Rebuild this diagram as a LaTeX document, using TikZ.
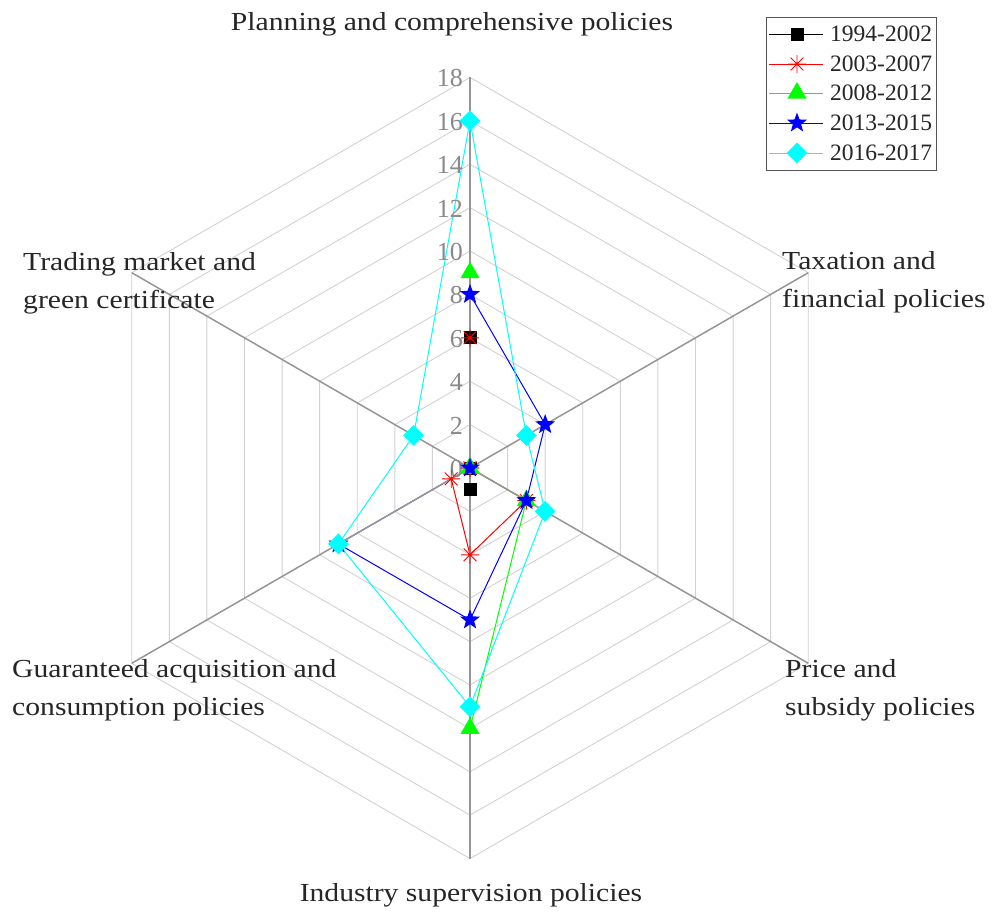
\documentclass[tikz,border=0pt]{standalone}
\usepackage{fontspec}
\setmainfont{Liberation Serif}
\newfontfamily\labfont[FakeStretch=1.14]{Liberation Serif}
\usetikzlibrary{shapes.geometric}
\definecolor{ringc}{HTML}{D2D2D2}
\definecolor{axisc}{HTML}{969696}
\definecolor{tickc}{HTML}{8A8A8A}
\definecolor{legbord}{HTML}{555555}
\definecolor{cred}{HTML}{FF0000}
\definecolor{cgreen}{HTML}{00FF00}
\definecolor{cblue}{HTML}{0000FF}
\definecolor{ccyan}{HTML}{00FFFF}
\newcommand\defseries[2]{%
  \foreach \v [count=\i from 0] in {#2} {%
    \coordinate (#1\i) at ({470+21.7*\v*cos(90-60*\i)},{468-21.7*\v*sin(90-60*\i)});}}
\tikzset{
  ringline/.style={draw=ringc, line width=0.9pt},
  axisline/.style={draw=axisc, line width=1.5pt},
  ticklab/.style={text=tickc, font=\fontsize{26}{26}\selectfont, inner sep=0pt},
  axlab/.style={text=black!85, font=\labfont\fontsize{26}{38}\selectfont, inner sep=0pt, align=left},
  leglab/.style={text=black!85, font=\fontsize{23.5}{23.5}\selectfont, inner sep=0pt, anchor=west},
  serline/.style={line width=1pt},
  sqm/.style={rectangle, fill=black, minimum size=13pt, inner sep=0pt},
  trim/.style={regular polygon, regular polygon sides=3, fill=cgreen, minimum size=22pt, inner sep=0pt},
  starm/.style={star, star points=5, star point ratio=2.4, fill=cblue, minimum size=21pt, inner sep=0pt},
  diam/.style={diamond, fill=ccyan, minimum width=21pt, minimum height=21pt, inner sep=0pt},
  asterm/.pic={\draw[cred, line width=0.9pt] (-9,0)--(9,0) (0,-9)--(0,9) (-6.4,-6.4)--(6.4,6.4) (-6.4,6.4)--(6.4,-6.4);}
}
\begin{document}
\begin{tikzpicture}[x=1pt,y=-1pt]
\useasboundingbox (0,0) rectangle (994,913);
\fill[white] (0,0) rectangle (994,913);
\coordinate (c) at (470,468);
% grid coordinates
\foreach \k in {0,...,5}{
  \foreach \r in {2,4,...,18}{
    \coordinate (g\k-\r) at ({470+21.7*\r*cos(90-60*\k)},{468-21.7*\r*sin(90-60*\k)});
  }
}
\foreach \r in {2,4,...,18}
  \draw[ringline] (g0-\r) -- (g1-\r) -- (g2-\r) -- (g3-\r) -- (g4-\r) -- (g5-\r) -- cycle;
% data
\defseries{k}{6,0,0,1,0,0}
\defseries{r}{6,0,3,4,1,0}
\defseries{g}{9,0,3,12,0,0}
\defseries{b}{8,4,3,7,7,0}
\defseries{y}{16,3,4,11,7,3}
\draw[serline, black] (k0)--(k1)--(k2)--(k3)--(k4)--(k5)--cycle;
\draw[serline, cred] (r0)--(r1)--(r2)--(r3)--(r4)--(r5)--cycle;
\draw[serline, cgreen] (g0)--(g1)--(g2)--(g3)--(g4)--(g5)--cycle;
\draw[serline, cblue] (b0)--(b1)--(b2)--(b3)--(b4)--(b5)--cycle;
\draw[serline, ccyan] (y0)--(y1)--(y2)--(y3)--(y4)--(y5)--cycle;
% axes
\foreach \k in {0,...,5} \draw[axisline] (c) -- (g\k-18);
% tick labels
\foreach \r in {0,2,...,18}
  \node[ticklab, anchor=east] (t\r) at (463,{468-21.7*\r+1}) {\r};
% markers
\foreach \i in {0,...,5} \node[sqm] (mk\i) at (k\i) {};
\foreach \i in {0,...,5} \pic at (r\i) {asterm};
\foreach \i in {0,...,5} \node[trim] (mg\i) at (g\i) {};
\foreach \i in {0,...,5} \node[starm] (mb\i) at (b\i) {};
\foreach \i in {0,...,5} \node[diam] (my\i) at (y\i) {};
% axis labels
\node[axlab, anchor=center] (lp) at (452,24) {Planning and comprehensive policies};
\node[axlab, anchor=west] (lt) at (782,282) {Taxation and\\financial policies};
\node[axlab, anchor=west] (lr) at (785,690) {Price and\\subsidy policies};
\node[axlab, anchor=center] (li) at (471,895) {Industry supervision policies};
\node[axlab, anchor=west] (lg) at (12,690) {Guaranteed acquisition and\\consumption policies};
\node[axlab, anchor=west] (lm) at (23,283) {Trading market and\\green certificate};
% legend
\node[draw=legbord, fill=white, line width=0.9pt, minimum width=170pt, minimum height=153pt, anchor=north west, inner sep=0pt] (leg) at (766,17) {};
\foreach \n/\yy in {1/34,2/64,3/93,4/123,5/153}{
  \coordinate (la\n) at (769,\yy);
  \coordinate (lb\n) at (823,\yy);
  \coordinate (lm\n) at (797,\yy);
}
\draw[serline, black] (la1) -- (lb1);
\node[sqm] (lk) at (lm1) {};
\draw[serline, cred] (la2) -- (lb2);
\pic at (lm2) {asterm};
\draw[serline, cgreen] (la3) -- (lb3);
\node[trim] (lgm) at (lm3) {};
\draw[serline, cblue] (la4) -- (lb4);
\node[starm] (lbm) at (lm4) {};
\draw[serline, ccyan] (la5) -- (lb5);
\node[diam] (lym) at (lm5) {};
\node[leglab] (lt1) at (830,34) {1994-2002};
\node[leglab] (lt2) at (830,64) {2003-2007};
\node[leglab] (lt3) at (830,93) {2008-2012};
\node[leglab] (lt4) at (830,123) {2013-2015};
\node[leglab] (lt5) at (830,153) {2016-2017};
\end{tikzpicture}
\end{document}
